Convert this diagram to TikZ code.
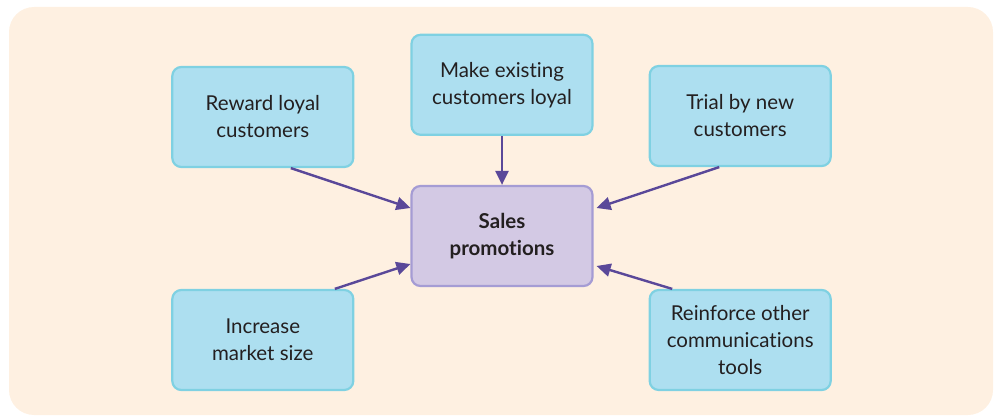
\documentclass[tikz,border=0pt]{standalone}
\usepackage{fontspec}
\setmainfont[Ligatures=NoCommon]{Lato}
\usepackage{tikz}
\usetikzlibrary{arrows.meta,positioning}
\definecolor{promoBg}{HTML}{FEF0E1}
\definecolor{promoBlue}{HTML}{ADDFF0}
\definecolor{promoBlueLine}{HTML}{7FD1E2}
\definecolor{promoLilac}{HTML}{D3C9E4}
\definecolor{promoLilacLine}{HTML}{A59CD4}
\definecolor{promoArrow}{HTML}{5A4899}
\definecolor{promoInk}{HTML}{231F20}

\begin{document}
\begin{tikzpicture}[
  x=1pt, y=-1pt,
  >=Triangle,
  aim/.style={rounded corners=9pt, draw=promoBlueLine, fill=promoBlue, line width=2.2pt,
    align=center, minimum width=181pt, minimum height=100pt, text=promoInk,
    font=\fontsize{20.5}{27}\selectfont},
  hub/.style={aim, draw=promoLilacLine, fill=promoLilac, font=\fontsize{20.5}{27}\selectfont\bfseries},
  push/.style={-{Triangle[length=14pt,width=13pt]}, line width=2.4pt, draw=promoArrow}
]
  \useasboundingbox (0,0) rectangle (994,417);
  \fill[promoBg, rounded corners=25pt] (9,7) rectangle (993,415);
  \node[hub] (sales) at (502,236) {Sales\\promotions};
  \node[aim,above=49pt of sales] (loyal) {Make existing\\customers loyal};
  \node[aim,left=56pt of sales,yshift=119pt] (reward) {Reward loyal\\customers};
  \node[aim,right=55pt of sales,yshift=120pt] (trial) {Trial by new\\customers};
  \node[aim,left=56pt of sales,yshift=-104pt] (market) {Increase\\market size};
  \node[aim,right=55pt of sales,yshift=-104pt] (tools) {Reinforce other\\communications\\tools};
  \draw[push] (loyal.south) -- (sales.north);
  \draw[push] ([xshift=28pt]reward.south) -- ([yshift=28pt]sales.west);
  \draw[push] ([xshift=-21pt]trial.south) -- ([xshift=3pt,yshift=28pt]sales.east);
  \draw[push] ([xshift=72pt]market.north) -- ([yshift=-28pt]sales.west);
  \draw[push] ([xshift=-68pt]tools.north) -- ([xshift=3pt,yshift=-30pt]sales.east);
\end{tikzpicture}
\end{document}
